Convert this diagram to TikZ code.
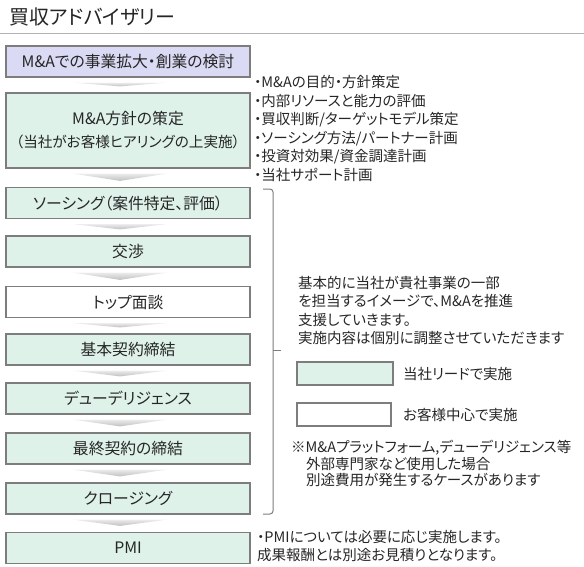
\documentclass[tikz,border=0pt]{standalone}
\usepackage{fontspec}
\setmainfont{Noto Sans CJK JP}[RawFeature=+palt]
\usepackage{tikz}
\usetikzlibrary{calc}
\definecolor{lav}{RGB}{218,218,244}
\definecolor{mint}{RGB}{222,242,233}
\definecolor{edge}{RGB}{125,125,125}
\definecolor{ink}{RGB}{38,38,38}

\begin{document}
\begin{tikzpicture}[x = 1pt, y = -1pt]
\useasboundingbox (0, 0) rectangle (584, 566);
%\draw[very thin, color = gray](0, 0) grid[step = 50] (584, 566);
\tikzstyle{block} = [draw = edge, line width = 1.2pt, fill = mint, rectangle,
  minimum width = 244pt, minimum height = 31pt, text = ink, align = center,
  font = \fontsize{15.8}{21}\selectfont]
\tikzstyle{chev} = [top color = gray!15, bottom color = gray!50, draw = none]
\tikzstyle{note} = [text = ink, anchor = north west, inner sep = 0pt, align = left]
\node [anchor = west, inner sep = 0pt, text = ink, font = \fontsize{20}{22}\selectfont]
  at (9, 17) (title) {買収アドバイザリー};
\draw [gray!60, line width = 1pt] (0, 33) -- (584, 33);
\node [block, fill = lav] at (128, 61.5) (study) {M\&Aでの事業拡大・創業の検討};
\node [block, minimum height = 75pt] at (128, 130.5) (policy)
  {M\&A方針の策定\\[2pt]{\fontsize{14.6}{20}\selectfont （当社がお客様ヒアリングの上実施）}};
\node [block] at (128, 203) (sourcing) {ソーシング（案件特定、評価）};
\node [block] at (128, 251.5) (nego) {交渉};
\node [block, fill = white] at (128, 302) (top) {トップ面談};
\node [block] at (128, 349.5) (basic) {基本契約締結};
\node [block] at (128, 398.5) (dd) {デューデリジェンス};
\node [block] at (128, 448.5) (final) {最終契約の締結};
\node [block] at (128, 498.5) (closing) {クロージング};
\node [block] at (128, 548) (pmi) {PMI};
\foreach \a/\b in {study/policy, policy/sourcing, sourcing/nego, nego/top,
  top/basic, basic/dd, dd/final, final/closing, closing/pmi}
  \shade [chev] ($(\a.south)+(-55, 5)$) -- ($(\a.south)+(39, 5)$)
    -- ($(\b.north)+(-8, -6)$) -- cycle;
% bracket
\draw [edge, line width = 1pt, rounded corners = 3pt]
  (263, 189) -- (273, 189) -- (273, 514) -- (263, 514);
\draw [edge, line width = 1pt] (273, 350) -- (281, 350);
\node [note, font = \fontsize{14.5}{18.6}\selectfont] at (254, 75) (plan)
  {・M\&Aの目的・方針策定\\・内部リソースと能力の評価\\・買収判断/ターゲットモデル策定\\
   ・ソーシング方法/パートナー計画\\・投資対効果/資金調達計画\\・当社サポート計画};
\node [note, font = \fontsize{14.5}{18.3}\selectfont] at (298, 276) (scope)
  {基本的に当社が貴社事業の一部\\を担当するイメージで、M\&Aを推進\\
   支援していきます。\\実施内容は個別に調整させていただきます};
\node [draw = edge, line width = 1.2pt, fill = mint, minimum width = 96pt,
  minimum height = 23pt] at (345, 373.5) (keylead) {};
\node [draw = edge, line width = 1.2pt, fill = white, minimum width = 94pt,
  minimum height = 23pt] at (344, 414.5) (keyclient) {};
\node [anchor = west, inner sep = 0pt, text = ink, font = \fontsize{14.5}{16}\selectfont]
  at (403, 373.5) (leadtxt) {当社リードで実施};
\node [anchor = west, inner sep = 0pt, text = ink, font = \fontsize{14.5}{16}\selectfont]
  at (403, 414.5) (clienttxt) {お客様中心で実施};
\node [note, font = \fontsize{14.5}{16.7}\selectfont] at (291, 440) (cost)
  {※M\&Aプラットフォーム,デューデリジェンス等\\
   \hspace*{15pt}外部専門家など使用した場合\\
   \hspace*{15pt}別途費用が発生するケースがあります};
\node [note, font = \fontsize{14.5}{18}\selectfont] at (257, 530) (pminote)
  {・PMIについては必要に応じ実施します。\\成果報酬とは別途お見積りとなります。};
\end{tikzpicture}
\end{document}
